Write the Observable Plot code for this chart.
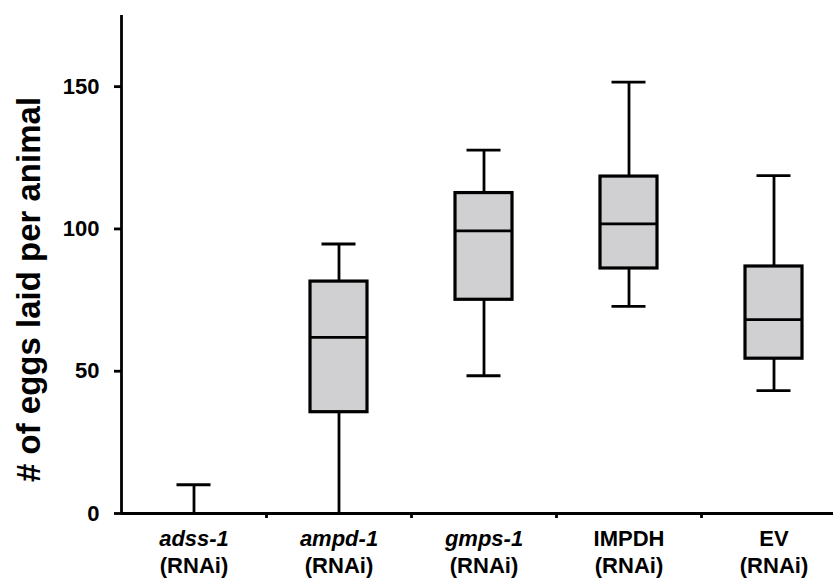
<!DOCTYPE html>
<html>
<head>
<meta charset="utf-8">
<script src="https://cdn.jsdelivr.net/npm/d3@7"></script>
<script src="https://cdn.jsdelivr.net/npm/@observablehq/plot@0.6"></script>
<style>
html, body { margin: 0; padding: 0; background: #fff; overflow: hidden; }
#chart svg { max-width: none !important; }
</style>
</head>
<body>
<div id="chart"></div>
<script>
// ---- data ----
const categories = ["adss-1", "ampd-1", "gmps-1", "IMPDH", "EV"];
const labelLine2 = ["(RNAi)", "(RNAi)", "(RNAi)", "(RNAi)", "(RNAi)"];
const italicLabel = [true, true, true, false, false];
const whiskerLow = [0, 0, 48.4, 72.8, 43.2];
const quartile1 = [0, 35.6, 75.1, 86.1, 54.4];
const medians = [0, 61.9, 99.3, 101.8, 68.1];
const quartile3 = [0, 81.5, 112.6, 118.4, 86.8];
const whiskerHigh = [10.1, 94.7, 127.7, 151.6, 118.7];
const yTicks = [0, 50, 100, 150];
const yLabel = "# of eggs laid per animal";

const rows = categories.map((c, i) => ({
  cat: c, line2: labelLine2[i], italic: italicLabel[i],
  lo: whiskerLow[i], q1: quartile1[i], med: medians[i], q3: quartile3[i], hi: whiskerHigh[i]
}));

// ---- layout ----
const W = 846, H = 582, mL = 121, mR = 0, mT = 15, mB = 69;
const bw = (W - mL - mR) / categories.length;
const boxInset = (bw - 57) / 2;
const capInset = (bw - 34) / 2;
const sw = 2.8;
const boxSw = 3.2;
const ink = "#000";

const chart = Plot.plot({
  width: W, height: H,
  marginLeft: mL, marginRight: mR, marginTop: mT, marginBottom: mB,
  style: { fontFamily: "'Liberation Sans', Arial, sans-serif", fontWeight: "bold", background: "#fff", color: "#000", maxWidth: "none" },
  x: { type: "band", domain: categories, padding: 0, axis: null },
  y: { domain: [0, 175], axis: null },
  marks: [
    // whiskers
    Plot.ruleX(rows, { x: "cat", y1: "lo", y2: "hi", stroke: ink, strokeWidth: sw }),
    // boxes
    Plot.barY(rows, { x: "cat", y1: "q1", y2: "q3", fill: "#d0cfd1", stroke: ink, strokeWidth: boxSw, insetLeft: boxInset, insetRight: boxInset }),
    // medians
    Plot.tickY(rows, { x: "cat", y: "med", stroke: ink, strokeWidth: sw, insetLeft: boxInset, insetRight: boxInset }),
    // caps
    Plot.tickY(rows, { x: "cat", y: "lo", stroke: ink, strokeWidth: sw, insetLeft: capInset, insetRight: capInset }),
    Plot.tickY(rows, { x: "cat", y: "hi", stroke: ink, strokeWidth: sw, insetLeft: capInset, insetRight: capInset }),
    // x axis line
    Plot.ruleY([0], { stroke: ink, strokeWidth: sw }),
    // y axis line
    Plot.ruleX([categories[0]], { dx: -bw / 2, stroke: ink, strokeWidth: sw }),
    // x ticks between categories
    Plot.ruleX(categories.slice(1), { dx: -bw / 2, y1: 0, y2: 0, insetTop: 5, stroke: ink, strokeWidth: sw }),
    // y axis ticks & labels
    Plot.axisY(yTicks, { anchor: "left", tickSize: 7, tickPadding: 15, fontSize: 22, fontWeight: "bold", strokeWidth: sw, label: null }),
    // x labels line 1
    Plot.text(rows.filter(d => d.italic), { x: "cat", text: "cat", frameAnchor: "bottom", dy: 32, fontSize: 22, fontStyle: "italic", fontWeight: "bold", fill: ink }),
    Plot.text(rows.filter(d => !d.italic), { x: "cat", text: "cat", frameAnchor: "bottom", dy: 32, fontSize: 22, fontWeight: "bold", fill: ink }),
    // x labels line 2
    Plot.text(rows, { x: "cat", text: "line2", frameAnchor: "bottom", dy: 59, fontSize: 22, fontWeight: "bold", fill: ink }),
    // y label
    Plot.text([yLabel], { frameAnchor: "left", textAnchor: "middle", rotate: -90, dx: -92.5, dy: 25, fontSize: 33, fontWeight: "bold", fill: ink })
  ]
});

document.getElementById("chart").appendChild(chart);
</script>
</body>
</html>
